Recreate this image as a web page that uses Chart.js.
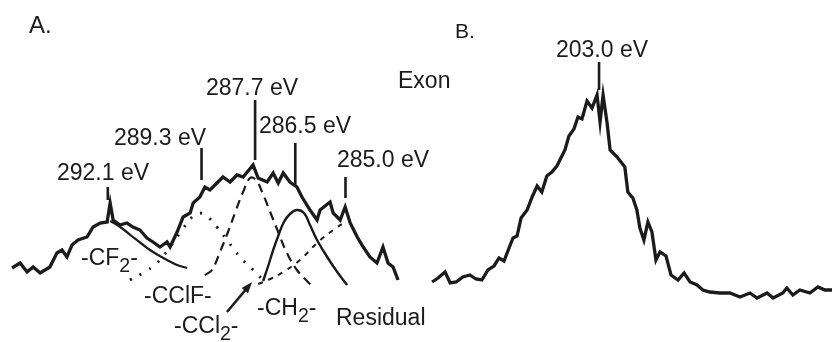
<!DOCTYPE html>
<html>
<head>
<meta charset="utf-8">
<script src="https://cdn.jsdelivr.net/npm/chart.js@4.4.1/dist/chart.umd.min.js"></script>
<style>
    html, body { margin: 0; padding: 0; background: #fff; }
    #wrap { position: relative; width: 833px; height: 342px; overflow: hidden; }
    canvas { position: absolute; top: 0; }
</style>
</head>
<body>
<div id="wrap">
    <canvas id="panelA" width="460" height="342" style="left:0"></canvas>
    <canvas id="panelB" width="413" height="342" style="left:420px"></canvas>
</div>
<script>
// Panel A: C 1s spectrum (binding energy eV, intensity arb. units)
const aEnergy = [294.96, 294.72, 294.51, 294.33, 294.12, 293.83, 293.62, 293.47, 293.32, 293.17,
    292.99, 292.72, 292.54, 292.33, 292.12, 292.03, 291.94, 291.74, 291.53, 291.35,
    291.14, 290.93, 290.75, 290.54, 290.33, 290.24, 290.03, 289.85, 289.64, 289.55,
    289.35, 289.20, 289.05, 288.84, 288.66, 288.45, 288.24, 288.06, 287.76, 287.61,
    287.34, 287.16, 287.01, 286.86, 286.66, 286.45, 286.30, 286.06, 285.85, 285.76,
    285.46, 285.37, 285.16, 285.01, 284.86, 284.65, 284.47, 284.27, 284.06, 283.88,
    283.73, 283.58, 283.43];
const aCounts = [74, 79, 70, 75, 69, 75, 89, 92, 85, 97,
    102, 105, 115, 119, 120, 139, 122, 117, 119, 115,
    112, 104, 100, 95, 100, 95, 110, 125, 129, 139,
    145, 155, 152, 159, 165, 160, 167, 165, 177, 164,
    160, 169, 159, 169, 160, 155, 145, 132, 122, 132,
    140, 129, 122, 135, 119, 105, 95, 85, 79, 95,
    79, 75, 62];

// fitted components
const cf2Energy = [292.03, 291.73, 291.35, 291.08, 290.84, 290.60, 290.33, 290.03, 289.73];
const cf2Counts = [121, 115, 105, 98, 92, 87, 82, 77, 74];
const cclfEnergy = [291.44, 291.05, 290.63, 290.24, 289.88, 289.58, 289.35, 289.11, 288.84, 288.54, 288.15, 287.76, 287.46];
const cclfCounts = [62, 69, 79, 95, 112, 125, 129, 125, 115, 102, 85, 72, 62];
const ccl2Energy = [289.20, 288.99, 288.75, 288.51, 288.27, 288.06, 287.85, 287.67, 287.49, 287.25, 287.01, 286.75, 286.45, 286.15, 285.94];
const ccl2Counts = [67, 72, 90, 110, 132, 150, 164, 162, 150, 130, 110, 89, 72, 61, 54];
const ch2Energy = [287.46, 287.31, 287.16, 287.01, 286.84, 286.66, 286.45, 286.24, 286.06, 285.85, 285.64, 285.37, 285.16, 284.95];
const ch2Counts = [61, 76, 92, 106, 120, 128, 132, 129, 117, 102, 90, 76, 66, 57];
const residEnergy = [287.61, 287.25, 286.86, 286.36, 285.85, 285.37, 285.01];
const residCounts = [58, 63, 70, 82, 99, 112, 120];

// peak markers
const peaksA = [292.1, 289.3, 287.7, 286.5, 285.0];
const peakTopA = [155, 194, 242, 199, 165];
const peakBottomA = [142, 162, 182, 157, 144];

// Panel B: S 2p spectrum
const bEnergy = [207.99, 207.81, 207.60, 207.45, 207.27, 207.07, 206.86, 206.68, 206.50, 206.32,
    206.14, 205.99, 205.84, 205.69, 205.57, 205.45, 205.33, 205.15, 205.00, 204.85,
    204.71, 204.56, 204.41, 204.26, 204.14, 204.02, 203.90, 203.75, 203.63, 203.51,
    203.36, 203.21, 203.06, 202.97, 202.88, 202.76, 202.67, 202.46, 202.23, 202.14,
    201.99, 201.87, 201.78, 201.66, 201.54, 201.42, 201.30, 201.18, 201.00, 200.85,
    200.64, 200.46, 200.28, 200.07, 199.90, 199.69, 199.39, 199.09, 198.79, 198.49,
    198.28, 197.98, 197.80, 197.51, 197.39, 197.21, 197.00, 196.70, 196.46, 196.25,
    196.04];
const bCounts = [60, 64, 70, 59, 60, 65, 67, 63, 62, 72,
    76, 84, 81, 94, 104, 106, 124, 132, 145, 156,
    150, 166, 170, 176, 184, 192, 206, 213, 225, 223,
    241, 234, 247, 220, 247, 219, 192, 185, 175, 150,
    144, 132, 114, 102, 120, 110, 82, 90, 86, 67,
    62, 69, 60, 57, 52, 50, 49, 49, 45, 49,
    44, 49, 44, 49, 54, 47, 52, 49, 55, 52,
    52];
const peaksB = [203.0];
const peakTopB = [280];
const peakBottomB = [252];

const INK = '#1b1b1b';
const FONT = '"Liberation Sans", Arial, Helvetica, sans-serif';

function zip(xs, ys) {
    return xs.map((x, i) => ({ x: x, y: ys[i] }));
}

function curve(xs, ys, width, dash, tension) {
    return {
        data: zip(xs, ys),
        borderColor: INK,
        borderWidth: width,
        borderDash: dash || [],
        tension: tension || 0,
        pointRadius: 0,
        fill: false
    };
}

function markers(peaks, tops, bottoms) {
    return peaks.map((p, i) => curve([p, p], [tops[i], bottoms[i]], 2.6));
}

// draws text labels (with subscripts) and the arrow
const panelText = {
    id: 'panelText',
    afterDatasetsDraw(chart, args, opts) {
        const ctx = chart.ctx;
        const sx = chart.scales.x, sy = chart.scales.y;
        ctx.save();
        ctx.fillStyle = INK;
        ctx.textBaseline = 'alphabetic';
        (opts.items || []).forEach(item => {
            let x = item.x;
            const size = item.size || 23;
            item.parts.forEach(part => {
                const sub = part.sub;
                ctx.font = (sub ? size * 0.85 : size) + 'px ' + FONT;
                ctx.fillText(part.t, x, item.y + (sub ? 7 : 0));
                x += ctx.measureText(part.t).width;
            });
        });
        (opts.arrows || []).forEach(a => {
            const x1 = sx.getPixelForValue(a.from[0]), y1 = sy.getPixelForValue(a.from[1]);
            const x2 = sx.getPixelForValue(a.to[0]), y2 = sy.getPixelForValue(a.to[1]);
            const ang = Math.atan2(y2 - y1, x2 - x1);
            ctx.strokeStyle = INK;
            ctx.lineWidth = 2.5;
            ctx.beginPath();
            ctx.moveTo(x1, y1);
            ctx.lineTo(x2 - 6 * Math.cos(ang), y2 - 6 * Math.sin(ang));
            ctx.stroke();
            ctx.beginPath();
            ctx.moveTo(x2, y2);
            ctx.lineTo(x2 - 12 * Math.cos(ang - 0.35), y2 - 12 * Math.sin(ang - 0.35));
            ctx.lineTo(x2 - 12 * Math.cos(ang + 0.35), y2 - 12 * Math.sin(ang + 0.35));
            ctx.closePath();
            ctx.fill();
        });
        ctx.restore();
    }
};

function baseOptions(xmin, xmax, textOpts) {
    return {
        responsive: false,
        animation: false,
        devicePixelRatio: 1,
        layout: { padding: 0 },
        plugins: {
            legend: { display: false },
            tooltip: { enabled: false },
            panelText: textOpts
        },
        scales: {
            x: { type: 'linear', reverse: true, min: xmin, max: xmax, display: false },
            y: { type: 'linear', min: 0, max: 342, display: false }
        }
    };
}

function t(s) { return { t: s }; }
function sub(s) { return { t: s, sub: true }; }

new Chart(document.getElementById('panelA'), {
    type: 'line',
    data: {
        datasets: [
            curve(cf2Energy, cf2Counts, 2.2, null, 0.4),
            curve(cclfEnergy, cclfCounts, 2.8, [2, 9], 0.4),
            curve(ccl2Energy, ccl2Counts, 2.2, [9, 6], 0.4),
            curve(ch2Energy, ch2Counts, 2.4, null, 0.4),
            curve(residEnergy, residCounts, 2, [5, 6], 0.4),
            curve(aEnergy, aCounts, 3.3)
        ].concat(markers(peaksA, peakTopA, peakBottomA))
    },
    options: baseOptions(281.58, 295.32, {
        items: [
            { parts: [t('A.')], x: 29, y: 33, size: 24 },
            { parts: [t('292.1 eV')], x: 57, y: 180 },
            { parts: [t('289.3 eV')], x: 114, y: 145 },
            { parts: [t('287.7 eV')], x: 206, y: 95 },
            { parts: [t('286.5 eV')], x: 259, y: 133 },
            { parts: [t('285.0 eV')], x: 337, y: 167 },
            { parts: [t('Exon')], x: 398, y: 88 },
            { parts: [t('-CF'), sub('2'), t('-')], x: 81, y: 265 },
            { parts: [t('-CClF-')], x: 144, y: 303 },
            { parts: [t('-CCl'), sub('2'), t('-')], x: 174, y: 333 },
            { parts: [t('-CH'), sub('2'), t('-')], x: 257, y: 315 },
            { parts: [t('Residual')], x: 336, y: 325 }
        ],
        arrows: [{ from: [288.54, 30], to: [287.79, 60] }]
    }),
    plugins: [panelText]
});

new Chart(document.getElementById('panelB'), {
    type: 'line',
    data: {
        datasets: [curve(bEnergy, bCounts, 3.3)].concat(markers(peaksB, peakTopB, peakBottomB))
    },
    options: baseOptions(196.01, 208.35, {
        items: [
            { parts: [t('B.')], x: 35, y: 38, size: 21 },
            { parts: [t('203.0 eV')], x: 136, y: 57 }
        ]
    }),
    plugins: [panelText]
});
</script>
</body>
</html>
